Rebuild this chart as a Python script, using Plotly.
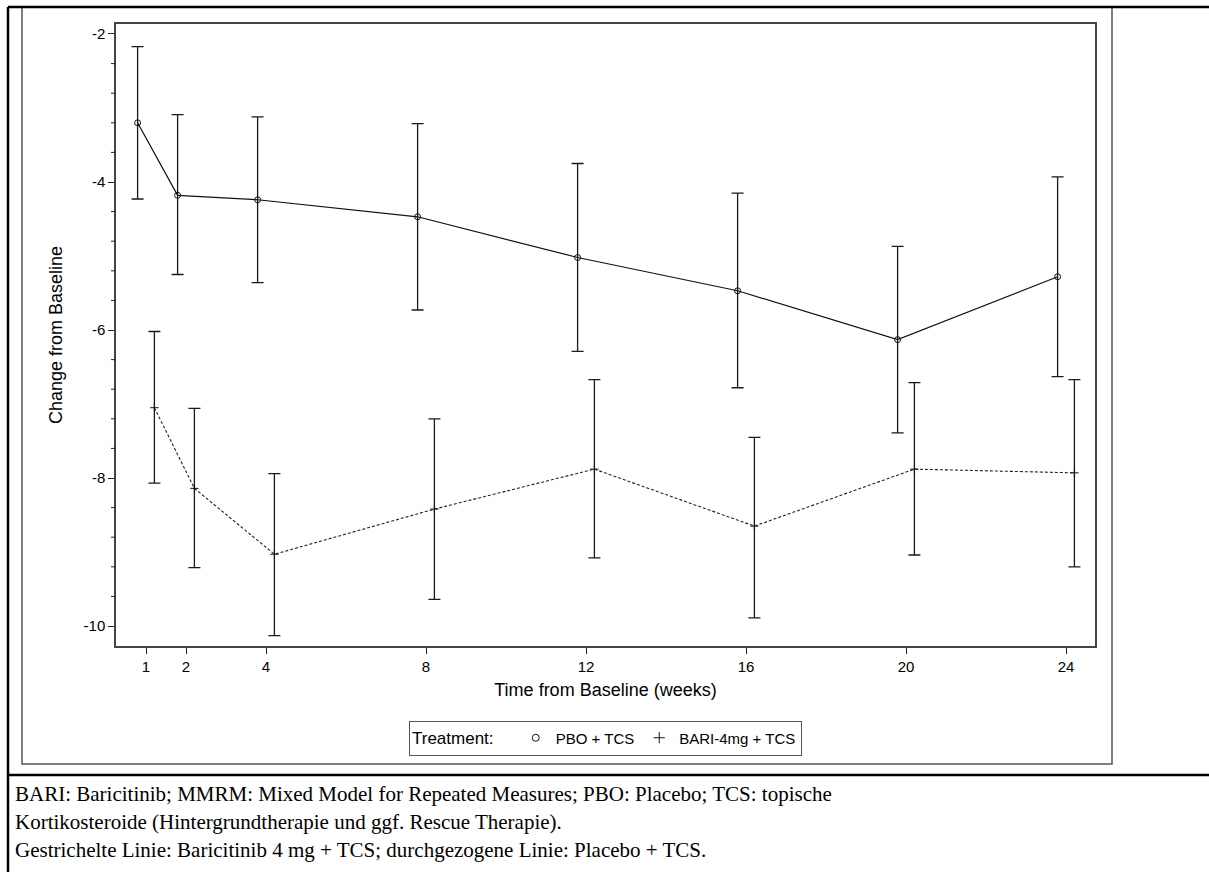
import plotly.graph_objects as go

# Visit weeks and LS-mean change from baseline with 95% CI per arm
weeks = [1, 2, 4, 8, 12, 16, 20, 24]

pbo_mean = [-3.20, -4.18, -4.24, -4.47, -5.02, -5.47, -6.13, -5.28]
pbo_upper = [-2.17, -3.09, -3.12, -3.21, -3.75, -4.15, -4.87, -3.93]
pbo_lower = [-4.23, -5.25, -5.36, -5.73, -6.29, -6.78, -7.39, -6.63]

bari_mean = [-7.05, -8.14, -9.03, -8.42, -7.88, -8.65, -7.88, -7.93]
bari_upper = [-6.02, -7.06, -7.94, -7.20, -6.67, -7.45, -6.71, -6.67]
bari_lower = [-8.07, -9.21, -10.13, -9.64, -9.08, -9.89, -9.04, -9.20]

x_ticks = [1, 2, 4, 8, 12, 16, 20, 24]
y_ticks = [-2, -4, -6, -8, -10]

footnote = [
    "BARI: Baricitinib; MMRM: Mixed Model for Repeated Measures; PBO: Placebo; TCS: topische",
    "Kortikosteroide (Hintergrundtherapie und ggf. Rescue Therapie).",
    "Gestrichelte Linie: Baricitinib 4 mg + TCS; durchgezogene Linie: Placebo + TCS.",
]

W, H = 1209, 872
L, R, T, B = 116, 114, 24, 226
PW, PH = W - L - R, H - T - B
DODGE = 0.21  # horizontal separation of the two arms at each visit
SANS = "Liberation Sans, Arial"

# four minor ticks between each pair of labelled y ticks
y_minor = [round(-2 - 0.4 * k, 2) for k in range(21) if k % 5 != 0]


def px_x(px):
    return (px - L) / PW


def px_y(py):
    return (H - B - py) / PH


def ci(mean, upper, lower):
    return dict(
        type="data", symmetric=False,
        array=[u - m for u, m in zip(upper, mean)],
        arrayminus=[m - l for m, l in zip(mean, lower)],
        width=6, thickness=1.3, color="#1a1a1a",
    )


fig = go.Figure()

fig.add_trace(go.Scatter(
    x=[w - DODGE for w in weeks], y=pbo_mean, mode="lines+markers",
    line=dict(color="#111111", width=1.2),
    marker=dict(symbol="circle-open", size=6, color="#111111", line=dict(width=1)),
    error_y=ci(pbo_mean, pbo_upper, pbo_lower), showlegend=False,
))
fig.add_trace(go.Scatter(
    x=[w + DODGE for w in weeks], y=bari_mean, mode="lines+markers",
    line=dict(color="#222222", width=1.1, dash="3px,2px"),
    marker=dict(symbol="cross-thin", size=6, color="#111111", line=dict(width=1, color="#111111")),
    error_y=ci(bari_mean, bari_upper, bari_lower), showlegend=False,
))

# legend entries show the marker symbol only
fig.add_trace(go.Scatter(
    x=[None], y=[None], mode="markers", name="PBO + TCS",
    marker=dict(symbol="circle-open", size=7, color="#111111", line=dict(width=1)),
))
fig.add_trace(go.Scatter(
    x=[None], y=[None], mode="markers", name="BARI-4mg + TCS",
    marker=dict(symbol="cross-thin", size=8, color="#111111", line=dict(width=1, color="#111111")),
))

axis_common = dict(
    showgrid=False, zeroline=False, showline=True, mirror=True,
    linecolor="#444444", linewidth=1.5,
    ticks="outside", ticklen=6, tickwidth=1, tickcolor="#222222",
    tickfont=dict(family=SANS, size=15, color="#000000"),
)

fig.update_xaxes(
    range=[0.25, 24.725], tickmode="array", tickvals=x_ticks,
    ticktext=[str(v) for v in x_ticks],
    title=dict(text="Time from Baseline (weeks)", standoff=10,
               font=dict(family=SANS, size=18, color="#000000")),
    **axis_common,
)
fig.update_yaxes(
    range=[-10.27, -1.865], tickmode="array", tickvals=y_ticks,
    ticktext=[str(v) for v in y_ticks],
    title=dict(text="Change from Baseline", standoff=16,
               font=dict(family=SANS, size=18, color="#000000")),
    **axis_common,
)

shapes = [
    # thin inner frame around the graphic
    dict(type="rect", xref="paper", yref="paper",
         x0=px_x(22), x1=px_x(1112), y0=px_y(764), y1=px_y(7),
         line=dict(color="#555555", width=1.5)),
    # table borders
    dict(type="line", xref="paper", yref="paper",
         x0=px_x(8), x1=px_x(1209), y0=px_y(7), y1=px_y(7),
         line=dict(color="#000000", width=2.5)),
    dict(type="line", xref="paper", yref="paper",
         x0=px_x(8), x1=px_x(8), y0=px_y(7), y1=px_y(872),
         line=dict(color="#000000", width=2.5)),
    dict(type="line", xref="paper", yref="paper",
         x0=px_x(8), x1=px_x(1209), y0=px_y(775), y1=px_y(775),
         line=dict(color="#000000", width=2.5)),
]
# minor tick marks on the y axis
for v in y_minor:
    shapes.append(dict(
        type="line", xref="paper", yref="y", x0=px_x(111), x1=px_x(115.5),
        y0=v, y1=v, line=dict(color="#222222", width=1),
    ))

annotations = []
for i, line in enumerate(footnote):
    annotations.append(dict(
        text=line, xref="paper", yref="paper", x=px_x(13), y=px_y(794 + 28 * i),
        xanchor="left", yanchor="middle", showarrow=False,
        font=dict(family="Liberation Serif, Times New Roman", size=21, color="#000000"),
    ))

fig.update_layout(
    width=W, height=H,
    margin=dict(l=L, r=R, t=T, b=B),
    paper_bgcolor="#ffffff", plot_bgcolor="#ffffff",
    shapes=shapes, annotations=annotations,
    legend=dict(
        orientation="h", x=0.5, xanchor="center", y=px_y(738), yanchor="middle",
        title=dict(text="Treatment:   ", font=dict(family=SANS, size=17, color="#000000")),
        font=dict(family=SANS, size=15, color="#000000"),
        bordercolor="#555555", borderwidth=1, bgcolor="#ffffff",
        itemwidth=30,
    ),
)

fig.write_html("out.html")
